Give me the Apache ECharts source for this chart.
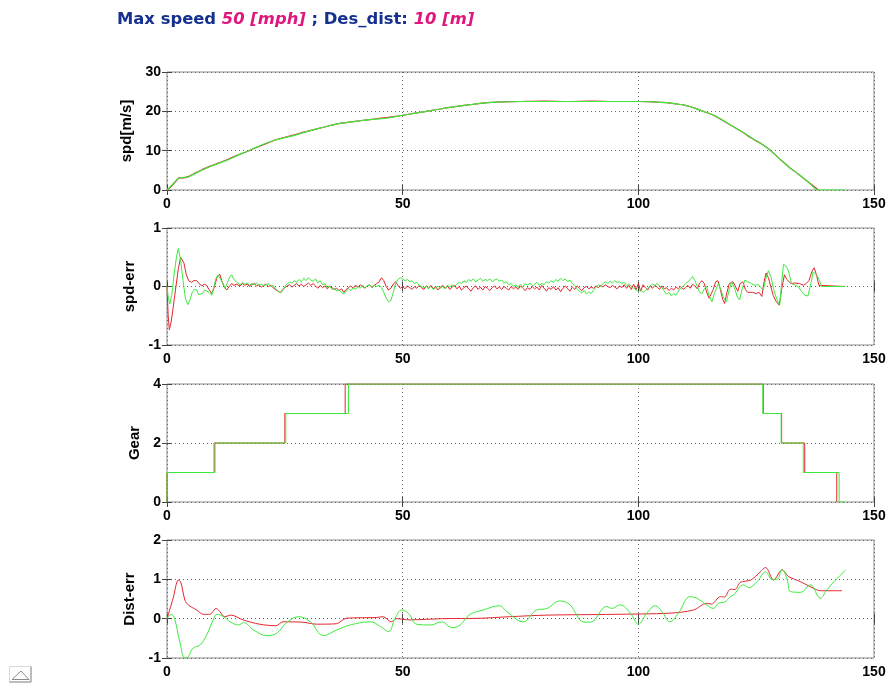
<!DOCTYPE html>
<html><head><meta charset="utf-8">
<script src="https://cdn.jsdelivr.net/npm/echarts@6/dist/echarts.min.js"></script>
<style>html,body{margin:0;padding:0;background:#fff}#c{width:889px;height:684px}</style>
</head><body><div id="c"></div>
<script>
// ---------- data ----------
const xTicks = [0, 50, 100, 150];
const panelNames = ['spd[m/s]', 'spd-err', 'Gear', 'Dist-err'];
const yRanges = [[0, 30, 10], [-1, 1, 1], [0, 4, 2], [-1, 2, 1]];

const spdGreen = [[0,0],[1,1.2],[2,2.5],[2.6,3.0],[3.5,3.2],[4.5,3.3],[5.5,3.9],[7,4.8],[9,5.9],[11,6.8],[13,7.7],[15,8.8],[17,9.8],[19,10.9],[21,11.9],[23,12.7],[25,13.3],[27,13.9],[29,14.6],[31,15.3],[33,15.9],[35,16.5],[37,17.0],[39,17.3],[41,17.6],[43,17.9],[45,18.1],[47,18.3],[49,18.8],[51,19.2],[53,19.6],[55,20.0],[57,20.4],[59,20.8],[61,21.2],[63,21.5],[65,21.8],[67,22.1],[69,22.3],[71,22.4],[75,22.5],[80,22.5],[85,22.5],[90,22.5],[95,22.5],[100,22.5],[103,22.4],[106,22.2],[108,21.9],[110,21.5],[112,20.8],[114,19.9],[116,19.0],[118,17.7],[120,16.2],[122,14.8],[124,13.3],[126,11.8],[128,10.1],[130,7.9],[132,5.8],[134,4.0],[136,2.1],[138.2,0],[143.9,0]];
const spdRed = [[0,0],[1,1.0],[2,2.4],[2.6,3.1],[3.5,3.1],[4.5,3.4],[5.5,4.0],[7,4.9],[9,6.0],[11,6.9],[13,7.8],[15,8.9],[17,9.8],[19,10.8],[21,11.8],[23,12.7],[25,13.4],[27,14.0],[29,14.7],[31,15.3],[33,15.9],[35,16.5],[37,17.0],[39,17.3],[41,17.6],[43,17.9],[45,18.2],[47,18.5],[49,18.8],[51,19.2],[53,19.6],[55,20.0],[57,20.4],[59,20.8],[61,21.2],[63,21.5],[65,21.8],[67,22.1],[69,22.3],[71,22.4],[75,22.5],[80,22.6],[85,22.5],[90,22.6],[95,22.5],[100,22.5],[103,22.4],[106,22.2],[108,21.9],[110,21.5],[112,20.8],[114,19.9],[116,19.0],[118,17.6],[120,16.2],[122,14.8],[124,13.2],[126,11.8],[128,10.1],[130,7.9],[132,5.8],[134,4.0],[136,2.1],[138.2,0]];

const errRed = [[0,0],[0.25,-0.5],[0.5,-0.74],[0.9,-0.6],[1.4,-0.3],[1.9,0.0],[2.4,0.3],[2.9,0.5],[3.2,0.52],[3.6,0.4],[4.1,0.2],[4.6,0.1],[5.2,0.07],[5.7,0.1],[6.3,0.1],[6.8,0.05],[7.4,0.01],[7.9,0.04],[8.4,0.02],[8.9,-0.05],[9.5,-0.12],[10.0,-0.02],[10.6,0.15],[11.2,0.21],[11.7,0.08],[12.2,-0.02],[12.7,-0.06],[13.2,0.0],[13.7,0.05],[14.2,0.02],[14.7,0.04],
[15,0.04],[15.5,0.01],[16,0.05],[16.5,0.02],[17,0.04],[17.5,0.0],[18,0.03],[18.5,0.05],[19,0.01],[19.5,0.03],[20,-0.01],[20.5,0.02],[21,0.04],[21.5,0.0],[22,0.02],[22.5,-0.02],[23,-0.05],[23.5,-0.08],[24,-0.1],[24.5,-0.06],[25,-0.02],[25.5,0.01],[26,0.03],[26.5,-0.01],[27,0.02],[27.5,0.05],[28,0.01],[28.5,0.04],[29,0.0],[29.5,0.03],[30,0.06],[30.5,0.02],[31,0.05],[31.5,0.01],[32,-0.03],[32.5,0.02],[33,-0.02],[33.5,0.01],[34,-0.04],[34.5,0.0],[35,-0.02],[35.5,-0.05],[36,-0.03],[36.5,-0.07],[37,-0.04],[37.5,-0.1],[38,-0.05],[38.5,-0.02],[39,0.01],[39.5,-0.03],[40,0.02],[40.5,-0.01],[41,0.03],[41.5,0.0],[42,-0.03],[42.5,0.01],[43,0.03],[43.5,-0.02],[44,0.02],[44.5,0.05],[45,0.08],[45.5,0.15],[46,0.1],[46.5,0.0],[47,-0.06],[47.5,-0.03],[48,0.04],[48.5,0.08],[49,0.02],[49.5,-0.03],[50,0.0],[50.5,-0.04],[51,0.01],[51.5,-0.02],[52,-0.05],[52.5,0.0],[53,-0.03],[53.5,0.02],[54,-0.02],[54.5,-0.05],[55,0.01],[55.5,-0.03],[56,0.02],[56.5,-0.04],[57,0.0],[57.5,-0.06],[58,-0.01],[58.5,0.02],[59,-0.03],[59.5,0.01],[60,-0.05],[60.5,-0.01],[61,0.02],[61.5,-0.04],[62,0.0],[62.5,-0.06],[63,-0.02],[63.5,0.01],[64,-0.04],[64.5,-0.08],[65,-0.02],[65.5,0.01],[66,-0.05],[66.5,-0.01],[67,-0.06],[67.5,0.0],[68,-0.03],[68.5,-0.07],[69,-0.02],[69.5,0.01],[70,-0.04],[70.5,-0.01],[71,-0.05],[71.5,0.0],[72,-0.03],[72.5,-0.06],[73,0.0],[73.5,-0.04],[74,-0.01],[74.5,-0.05],[75,0.01],[75.5,-0.03],[76,-0.07],[76.5,-0.02],[77,-0.05],[77.5,0.0],[78,-0.04],[78.5,-0.01],[79,-0.06],[79.5,0.02],[80,-0.03],[80.5,-0.08],[81,-0.02],[81.5,-0.05],[82,0.0],[82.5,-0.06],[83,-0.02],[83.5,-0.09],[84,-0.03],[84.5,0.01],[85,-0.04],[85.5,-0.08],[86,-0.01],[86.5,-0.05],[87,0.01],[87.5,-0.03],[88,-0.07],[88.5,-0.02],[89,0.0],[89.5,-0.04],[90,-0.01],[90.5,-0.03],[91,0.01],[91.5,-0.02],[92,0.02],[92.5,-0.01],[93,0.03],[93.5,0.0],[94,-0.02],[94.5,0.02],[95,-0.01],[95.5,-0.04],[96,0.01],[96.5,-0.02],[97,0.03],[97.5,-0.03],[98,0.02],[98.5,-0.05],[99,0.04],[99.5,-0.06],[100,0.05],[100.5,-0.08],[101,0.03],[101.5,-0.02],[102,-0.06],[102.5,0.01],[103,-0.03],[103.5,0.02],[104,-0.01],[104.5,-0.05],[105,0.01],[105.5,-0.04],[106,-0.02],[106.5,-0.07],[107,-0.03],[107.5,-0.06],[108,-0.01],[108.5,-0.04],[109,0.0],[109.5,-0.05],[110,-0.02],[110.5,0.02],[111,-0.03],[111.5,0.04],[112,0.01],[112.5,-0.04],[113,0.06],
[113.5,0.1],[114,0.05],[114.5,-0.1],[115,-0.2],[115.4,-0.23],[115.9,-0.05],[116.4,0.08],[116.9,0.1],[117.4,-0.05],[117.9,-0.22],[118.3,-0.29],[118.8,-0.1],[119.3,0.05],[120.1,0.08],[120.6,0.0],[121.1,-0.08],[121.6,0.05],[122.2,0.08],[122.7,-0.05],[123.2,-0.1],[123.6,-0.08],[124.2,-0.1],[125,-0.12],[125.6,-0.1],[126.2,-0.17],[126.6,0.05],[127.1,0.23],[127.6,0.15],[128.1,0.0],[128.6,-0.15],[129.2,-0.25],[129.9,-0.32],[130.4,-0.05],[131,0.2],[131.5,0.12],[132.4,0.05],[133.2,0.06],[134.2,0.05],[135,0.02],[135.6,0.05],[136.2,0.1],[136.8,0.25],[137.3,0.32],[137.8,0.2],[138.3,0.02],[138.6,0],[143.9,0]];

const errGreen = [[0,0],[0.3,-0.2],[0.6,-0.3],[1,-0.15],[1.5,0.2],[2,0.5],[2.4,0.65],[2.9,0.45],[3.4,0.1],[3.9,-0.2],[4.4,-0.31],[4.9,-0.22],[5.3,-0.11],[5.8,-0.05],[6.3,-0.06],[6.7,-0.14],[7.0,-0.17],[7.5,-0.12],[8.0,-0.06],[8.4,-0.05],[8.9,-0.1],[9.5,-0.15],[9.9,-0.02],[10.4,0.14],[10.8,0.2],[11.2,0.21],[11.7,0.08],[12.3,-0.03],[12.8,0.06],[13.3,0.16],[13.7,0.2],[14.2,0.12],[14.7,0.08],
[15,0.06],[15.5,0.03],[16,0.07],[16.5,0.04],[17,0.06],[17.5,0.02],[18,0.05],[18.5,0.03],[19,0.06],[19.5,0.02],[20,0.04],[20.5,0.01],[21,0.03],[21.5,0.05],[22,0.0],[22.5,0.02],[23,-0.03],[23.5,-0.07],[24,-0.11],[24.5,-0.08],[25,0.0],[25.5,0.04],[26,0.08],[26.5,0.05],[27,0.1],[27.5,0.07],[28,0.12],[28.5,0.08],[29,0.14],[29.5,0.1],[30,0.15],[30.5,0.11],[31,0.09],[31.5,0.13],[32,0.06],[32.5,0.1],[33,0.03],[33.5,0.05],[34,-0.02],[34.5,0.01],[35,-0.05],[35.5,-0.03],[36,-0.08],[36.5,-0.06],[37,-0.1],[37.5,-0.13],[38,-0.08],[38.5,-0.04],[39,-0.07],[39.5,-0.02],[40,-0.05],[40.5,0.0],[41,-0.03],[41.5,0.02],[42,-0.02],[42.5,0.01],[43,0.03],[43.5,-0.01],[44,0.02],[44.5,0.0],[45,0.02],[45.5,-0.02],[46,-0.1],[46.5,-0.2],[47,-0.26],[47.5,-0.24],[48,-0.1],[48.5,0.05],[49,0.12],[49.5,0.15],[50,0.13],[50.5,0.1],[51,0.12],[51.5,0.08],[52,0.1],[52.5,0.05],[53,0.07],[53.5,0.02],[54,0.0],[54.5,-0.03],[55,0.01],[55.5,-0.04],[56,0.0],[56.5,-0.05],[57,-0.02],[57.5,0.01],[58,-0.03],[58.5,0.0],[59,-0.04],[59.5,0.02],[60,-0.01],[60.5,0.03],[61,0.0],[61.5,0.04],[62,0.07],[62.5,0.05],[63,0.1],[63.5,0.07],[64,0.12],[64.5,0.09],[65,0.13],[65.5,0.08],[66,0.11],[66.5,0.14],[67,0.09],[67.5,0.12],[68,0.1],[68.5,0.13],[69,0.08],[69.5,0.11],[70,0.13],[70.5,0.09],[71,0.11],[71.5,0.06],[72,0.08],[72.5,0.03],[73,0.05],[73.5,0.0],[74,0.03],[74.5,-0.02],[75,0.04],[75.5,0.0],[76,0.05],[76.5,0.02],[77,0.06],[77.5,0.01],[78,0.04],[78.5,0.07],[79,0.02],[79.5,0.05],[80,0.03],[80.5,0.08],[81,0.06],[81.5,0.1],[82,0.07],[82.5,0.12],[83,0.09],[83.5,0.14],[84,0.1],[84.5,0.13],[85,0.08],[85.5,0.11],[86,0.05],[86.5,0.02],[87,-0.04],[87.5,-0.08],[88,-0.11],[88.5,-0.07],[89,-0.13],[89.5,-0.09],[90,-0.12],[90.5,-0.06],[91,-0.02],[91.5,0.03],[92,0.0],[92.5,0.05],[93,0.08],[93.5,0.05],[94,0.09],[94.5,0.06],[95,0.1],[95.5,0.07],[96,0.08],[96.5,0.05],[97,0.07],[97.5,0.02],[98,0.04],[98.5,0.0],[99,-0.03],[99.5,-0.05],[100,-0.09],[100.5,-0.06],[101,-0.1],[101.5,-0.07],[102,-0.04],[102.5,0.01],[103,0.04],[103.5,0.02],[104,0.05],[104.5,0.01],[105,-0.02],[105.5,-0.08],[106,-0.13],[106.5,-0.1],[107,-0.16],[107.5,-0.12],[108,-0.15],[108.5,-0.08],[109,-0.03],[109.5,0.0],[110,0.05],[110.5,0.08],[111,0.12],[111.5,0.17],[112,0.1],[112.5,0.0],[113,-0.1],
[113.5,-0.12],[114,-0.04],[114.5,0.0],[115,-0.15],[115.6,-0.26],[116.2,-0.1],[117,0.05],[117.5,-0.05],[118,-0.18],[118.7,-0.26],[119.3,-0.05],[119.8,0.08],[120.5,-0.05],[121,-0.18],[121.5,-0.23],[122,-0.05],[122.6,0.11],[123.2,0.08],[124,0.05],[124.7,0.02],[125.5,0.03],[126,-0.02],[126.5,-0.06],[127,0.12],[127.6,0.27],[128.2,0.15],[128.7,-0.05],[129.4,-0.22],[130,-0.32],[130.4,0.05],[130.8,0.38],[131.3,0.35],[131.8,0.28],[132.5,0.05],[133.3,0.02],[133.9,0.0],[134.6,-0.08],[135.3,-0.15],[136,-0.16],[136.6,0.05],[137.1,0.25],[137.7,0.2],[138.2,0.15],[138.9,0],[143.9,0]];

const gearRed = [[0,0],[0,1],[10.0,2],[25.0,3],[37.8,4],[126.5,3],[130.4,2],[135.3,1],[142.1,0]];
const gearGreen = [[0,0],[0,1],[10.2,2],[25.2,3],[38.5,4],[126.4,3],[130.3,2],[135.0,1],[142.6,0],[143.9,0]];

const distRed = [[0,0],[1.3,0.52],[2.4,0.98],[2.9,0.94],[3.8,0.47],[4.5,0.35],[6.3,0.22],[7.7,0.11],[9.1,0.11],[10.4,0.26],[11.2,0.18],[12.2,0.05],[13.6,0.09],[16.1,-0.03],[19.6,-0.14],[23.1,-0.18],[24.6,-0.08],[28.8,-0.09],[31.7,-0.14],[35.9,-0.13],[38.0,0.01],[44.4,0.03],[45.8,0.05],[47.6,-0.08],[48.6,0.0],[51.5,-0.03],[58.5,0.0],[66.4,0.01],[72.7,0.05],[80.6,0.09],[94.7,0.11],[106.7,0.14],[111.7,0.22],[114.5,0.39],[115.5,0.37],[117.4,0.56],[118.3,0.55],[119.5,0.75],[120.5,0.74],[121.6,0.92],[123.8,0.98],[125.2,1.11],[127,1.3],[128.7,0.98],[130.5,1.24],[131.9,1.07],[134.4,0.94],[137.2,0.77],[138.6,0.71],[143.2,0.71]];
const distGreen = [[0,0],[0.9,0.11],[1.6,0.0],[2.7,-0.58],[3.8,-1.0],[4.5,-0.97],[5.5,-0.75],[7,-0.67],[8.4,-0.42],[9.8,-0.03],[10.6,0.11],[12.0,0.05],[13.4,-0.08],[15.2,-0.16],[16.2,-0.1],[18.4,-0.29],[21.2,-0.43],[23.3,-0.37],[25.4,-0.1],[27.9,0.05],[30.4,-0.08],[33.2,-0.43],[36.0,-0.29],[38.9,-0.16],[43.1,-0.08],[45.3,-0.2],[47.0,-0.33],[48.4,0.01],[49.8,0.22],[51.2,0.14],[53.0,-0.14],[55.9,-0.16],[58.3,-0.08],[60.4,-0.23],[62.2,-0.16],[64.3,0.11],[67.1,0.22],[70.5,0.33],[72.1,0.18],[75.6,-0.08],[78.4,0.22],[80.6,0.26],[83.4,0.45],[85.5,0.35],[88.3,-0.08],[89.8,-0.09],[93.3,0.31],[94.4,0.26],[96.1,0.35],[98.3,0.14],[100.0,-0.14],[101.8,0.14],[103.6,0.33],[105.0,0.18],[106.7,-0.08],[108.5,0.14],[111,0.56],[112.4,0.52],[114.5,0.35],[115.9,0.26],[117.0,0.39],[118.4,0.43],[119.5,0.56],[120.2,0.6],[122.3,0.86],[123.4,0.79],[125.2,0.94],[127,1.19],[128.4,1.0],[129.4,1.0],[130.5,1.25],[131.6,0.98],[132.3,0.69],[134.4,0.67],[136.5,0.86],[138.6,0.52],[140,0.73],[141.5,0.94],[144,1.24]];

// ---------- chart ----------
const RED = '#e3262e', GREEN = '#3cea3c';
const FONT = '"Liberation Sans", Arial, sans-serif';
const TFONT = '"DejaVu Sans", Verdana, sans-serif';
const tops = [72, 228, 384, 540];
const heights = [118, 117, 118, 118];
const nameGaps = [26, 26, 20, 27];

const grids = tops.map((t, i) => ({left: 167, right: 15, top: t, height: heights[i], show: true, borderColor: '#8a8a8a', borderWidth: 1, backgroundColor: '#fff'}));
const gridLine = {show: true, lineStyle: {type: [1, 3], color: '#666', width: 1}};
const xAxes = [], yAxes = [];
for (let i = 0; i < 4; i++) {
  xAxes.push({type: 'value', gridIndex: i, min: xTicks[0], max: xTicks[xTicks.length - 1], interval: 50,
    axisLine: {show: false}, axisTick: {show: true, inside: true, length: 5, lineStyle: {color: '#444'}},
    axisLabel: {color: '#000', fontFamily: FONT, fontWeight: 'bold', fontSize: 14, margin: 7},
    splitLine: gridLine});
  yAxes.push({type: 'value', gridIndex: i, min: yRanges[i][0], max: yRanges[i][1], interval: yRanges[i][2],
    name: panelNames[i], nameLocation: 'middle', nameGap: nameGaps[i],
    nameTextStyle: {color: '#000', fontFamily: FONT, fontWeight: 'bold', fontSize: 15},
    axisLine: {show: false}, axisTick: {show: true, inside: true, length: 5, lineStyle: {color: '#444'}},
    axisLabel: {color: '#000', fontFamily: FONT, fontWeight: 'bold', fontSize: 14, margin: 6},
    splitLine: gridLine});
}
for (let i = 0; i < 4; i++) {
  xAxes.push({type: 'value', gridIndex: i, position: 'top', min: 0, max: 150, interval: 50,
    axisLine: {show: false}, axisTick: {show: true, inside: true, length: 5, lineStyle: {color: '#444'}},
    axisLabel: {show: false}, splitLine: {show: false}});
  yAxes.push({type: 'value', gridIndex: i, position: 'right', min: yRanges[i][0], max: yRanges[i][1], interval: yRanges[i][2],
    axisLine: {show: false}, axisTick: {show: true, inside: true, length: 5, lineStyle: {color: '#444'}},
    axisLabel: {show: false}, splitLine: {show: false}});
}

function ln(data, color, idx, extra) {
  return Object.assign({type: 'line', data: data, xAxisIndex: idx, yAxisIndex: idx, showSymbol: false, symbol: 'none',
    lineStyle: {color: color, width: 1}, animation: false, silent: true}, extra || {});
}

const series = [
  ln(spdRed, RED, 0, {smooth: 0.3, lineStyle: {color: RED, width: 1.2}}), ln(spdGreen, GREEN, 0, {smooth: 0.3, lineStyle: {color: GREEN, width: 1.2}}),
  ln(errRed, RED, 1), ln(errGreen, GREEN, 1),
  ln(gearRed, RED, 2, {step: 'end'}), ln(gearGreen, GREEN, 2, {step: 'end'}),
  ln(distRed, RED, 3, {smooth: 0.3}), ln(distGreen, GREEN, 3, {smooth: 0.4})
];

const chart = echarts.init(document.getElementById('c'), null, {renderer: 'canvas'});
chart.setOption({
  backgroundColor: '#fff',
  animation: false,
  title: {
    left: 117, top: 12, padding: 0,
    text: '{a|Max speed }{b|50 [mph]}{a| ; Des_dist: }{b|10 [m]}',
    textStyle: {rich: {
      a: {fontFamily: TFONT, fontWeight: 'bold', fontSize: 16.4, color: '#16308f'},
      b: {fontFamily: TFONT, fontWeight: 'bold', fontStyle: 'italic', fontSize: 16.4, color: '#e0167c'}
    }}
  },
  grid: grids, xAxis: xAxes, yAxis: yAxes, series: series,
  graphic: [
    {type: 'polyline', shape: {points: [[9.5, 682], [9.5, 666.5], [31, 666.5]]}, style: {stroke: '#d8d8d8', fill: null, lineWidth: 1}},
    {type: 'polyline', shape: {points: [[31, 666.5], [31, 682], [9.5, 682]]}, style: {stroke: '#7a7a7a', fill: null, lineWidth: 1}},
    {type: 'polyline', shape: {points: [[12, 679.5], [21, 671], [29, 679.5], [12, 679.5]]}, style: {stroke: '#8a8a8a', fill: null, lineWidth: 1}}
  ]
});
</script></body></html>
